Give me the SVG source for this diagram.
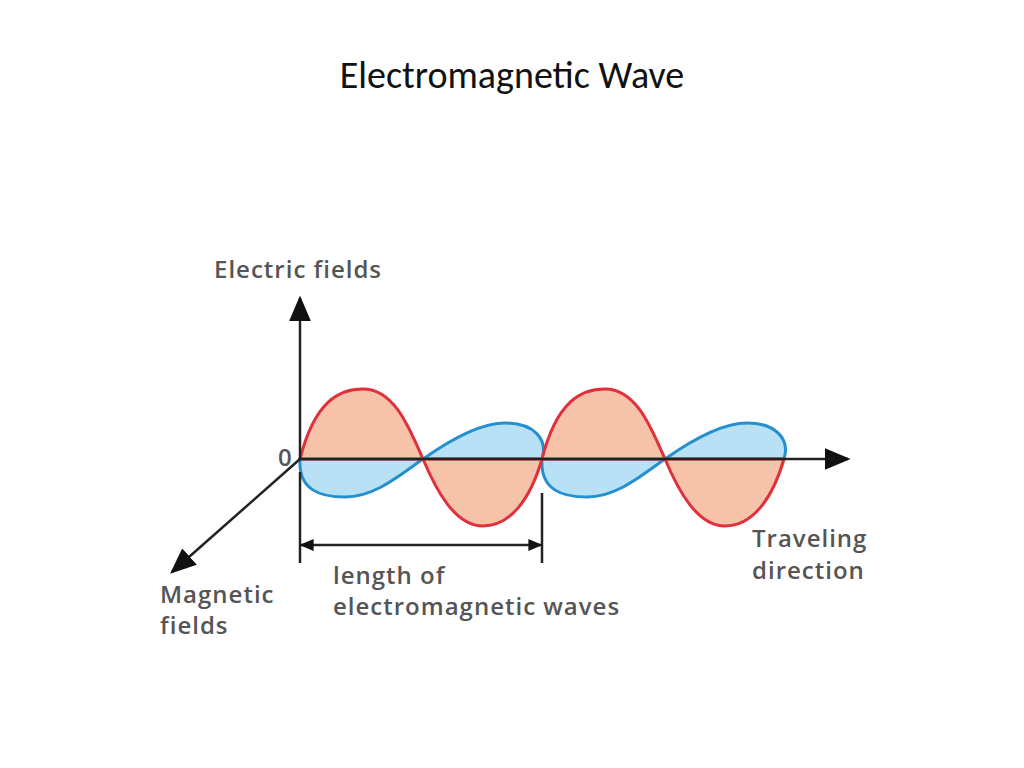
<svg xmlns="http://www.w3.org/2000/svg" width="1024" height="768" viewBox="0 0 1024 768">
<style>
.lbl{font-family:"Open Sans","DejaVu Sans",sans-serif;font-weight:600;font-size:24px;letter-spacing:1px;fill:#555}
.ax{stroke:#222;stroke-width:2.5;fill:none}
.red{fill:#f6c2aa;stroke:#e0303c;stroke-width:3}
.blue{fill:#b9e1f5;stroke:#2590cf;stroke-width:3}
</style>
<defs>
<marker id="big" viewBox="0 0 10 10" refX="9" refY="5" markerWidth="26" markerHeight="22" orient="auto" markerUnits="userSpaceOnUse" preserveAspectRatio="none"><path d="M0,0L10,5L0,10z" fill="#111"/></marker>
<marker id="sm" viewBox="0 0 10 10" refX="9" refY="5" markerWidth="14" markerHeight="12" orient="auto-start-reverse" markerUnits="userSpaceOnUse" preserveAspectRatio="none"><path d="M0,0L10,5L0,10z" fill="#111"/></marker>
</defs>
<rect width="1024" height="768" fill="#fff"/>
<text x="512" y="88" text-anchor="middle" font-family="Carlito,'Liberation Sans',sans-serif" font-size="38" fill="#111">Electromagnetic Wave</text>
<g id="waves">
<path class="blue" d="M300,459 C298,490 320,497 345,497 C375,497 400,475 423,459 C450,440 480,423 505,423 C535,423 548,440 542,459 C540,490 562,497 587,497 C617,497 642,475 665,459 C692,440 722,423 747,423 C777,423 790,440 784,459 Z"/>
<path class="red" d="M300,459 C315,400 340,389 363,389 C395,389 410,430 423,459 C436,490 455,526 483,526 C510,526 530,500 542,459 C557,400 582,389 605,389 C637,389 652,430 665,459 C678,490 697,526 725,526 C752,526 772,500 784,459 Z"/>
</g>
<g id="connectors">
<line class="ax" x1="300" y1="459" x2="300" y2="298" marker-end="url(#big)"/>
<line class="ax" x1="300" y1="459" x2="848" y2="459" marker-end="url(#big)"/>
<line class="ax" x1="300" y1="459" x2="172" y2="572" marker-end="url(#big)"/>
<line class="ax" x1="300" y1="472" x2="300" y2="563"/>
<line class="ax" x1="542" y1="493" x2="542" y2="563"/>
<line class="ax" x1="301" y1="545" x2="541" y2="545" marker-start="url(#sm)" marker-end="url(#sm)"/>
</g>
<g id="labels">
<text class="lbl" x="214" y="278">Electric fields</text>
<text class="lbl" x="278" y="466" font-size="20" fill="#777">0</text>
<text class="lbl" x="160" y="603">Magnetic</text>
<text class="lbl" x="160" y="634">fields</text>
<text class="lbl" x="333" y="584">length of</text>
<text class="lbl" x="333" y="615">electromagnetic waves</text>
<text class="lbl" x="752" y="547">Traveling</text>
<text class="lbl" x="752" y="579">direction</text>
</g>
</svg>
